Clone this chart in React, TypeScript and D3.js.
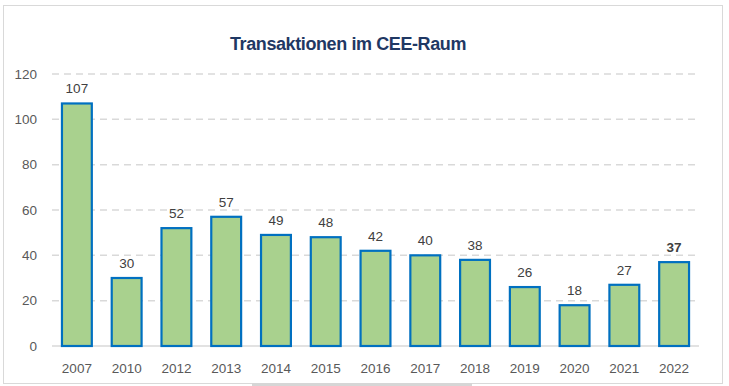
import { useEffect, useRef } from 'react'
import * as d3 from 'd3'

const years = ['2007', '2010', '2012', '2013', '2014', '2015', '2016', '2017', '2018', '2019', '2020', '2021', '2022']
const transactions = [107, 30, 52, 57, 49, 48, 42, 40, 38, 26, 18, 27, 37]
const yTicks = [0, 20, 40, 60, 80, 100, 120]

const W = 729
const H = 386

export default function App() {
  const svgRef = useRef<SVGSVGElement | null>(null)

  useEffect(() => {
    if (!svgRef.current) return
    const svg = d3.select(svgRef.current)
    svg.selectAll('*').remove()

    const font = '"Liberation Sans", Arial, sans-serif'

    // frame
    svg.append('rect')
      .attr('x', 3.5).attr('y', 5.5)
      .attr('width', 719).attr('height', 378)
      .attr('fill', '#fff')
      .attr('stroke', '#d9d9d9')
    svg.append('rect')
      .attr('x', 252).attr('y', 383)
      .attr('width', 220).attr('height', 3)
      .attr('fill', '#d6d6d6')

    const x = d3.scaleBand().domain(years).range([52, 699]).paddingInner(0.4).paddingOuter(0.2)
    const y = d3.scaleLinear().domain([0, 120]).range([346, 74])

    // title
    svg.append('text')
      .attr('x', 348).attr('y', 50)
      .attr('text-anchor', 'middle')
      .attr('font-family', font)
      .attr('font-size', 18)
      .attr('font-weight', 'bold')
      .attr('letter-spacing', -0.4)
      .attr('fill', '#1f3864')
      .text('Transaktionen im CEE-Raum')

    // grid
    svg.append('g').selectAll('line')
      .data(yTicks.filter(d => d > 0))
      .enter().append('line')
      .attr('x1', 52).attr('x2', 699)
      .attr('y1', d => y(d)).attr('y2', d => y(d))
      .attr('stroke', '#d9d9d9')
      .attr('stroke-width', 1.5)
      .attr('stroke-dasharray', '7,5')

    svg.append('line')
      .attr('x1', 52).attr('x2', 699)
      .attr('y1', y(0)).attr('y2', y(0))
      .attr('stroke', '#d9d9d9')
      .attr('stroke-width', 1.5)

    // y tick labels
    svg.append('g').selectAll('text')
      .data(yTicks)
      .enter().append('text')
      .attr('x', 37)
      .attr('y', d => y(d) + 4.5)
      .attr('text-anchor', 'end')
      .attr('font-family', font)
      .attr('font-size', 13.5)
      .attr('fill', '#595959')
      .text(d => d)

    // bars
    svg.append('g').selectAll('rect')
      .data(transactions)
      .enter().append('rect')
      .attr('x', (_, i) => x(years[i])!)
      .attr('y', d => y(d))
      .attr('width', x.bandwidth())
      .attr('height', d => y(0) - y(d))
      .attr('fill', '#a9d18e')
      .attr('stroke', '#0070c0')
      .attr('stroke-width', 2.2)

    // value labels
    svg.append('g').selectAll('text')
      .data(transactions)
      .enter().append('text')
      .attr('x', (_, i) => x(years[i])! + x.bandwidth() / 2)
      .attr('y', d => y(d) - 10)
      .attr('text-anchor', 'middle')
      .attr('font-family', font)
      .attr('font-size', 13.5)
      .attr('font-weight', (_, i) => i === transactions.length - 1 ? 'bold' : 'normal')
      .attr('fill', '#404040')
      .text(d => d)

    // x labels
    svg.append('g').selectAll('text')
      .data(years)
      .enter().append('text')
      .attr('x', d => x(d)! + x.bandwidth() / 2)
      .attr('y', 373)
      .attr('text-anchor', 'middle')
      .attr('font-family', font)
      .attr('font-size', 13.5)
      .attr('fill', '#595959')
      .text(d => d)
  }, [])

  return (
    <div style={{ position: 'fixed', left: 0, top: 0, width: W, height: H, background: '#fff' }}>
      <svg ref={svgRef} width={W} height={H} />
    </div>
  )
}
